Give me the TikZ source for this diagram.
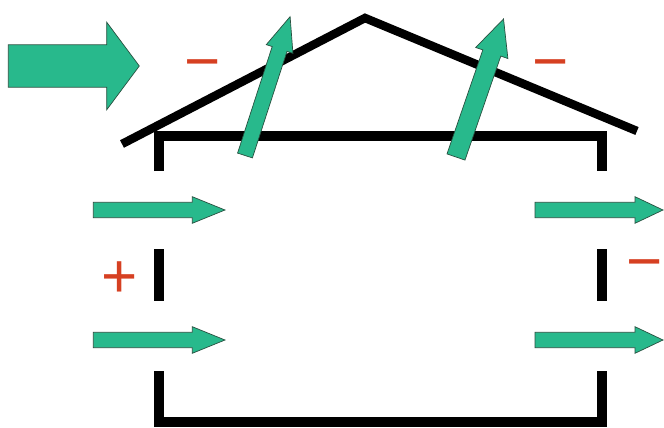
\documentclass[tikz,border=0pt]{standalone}
\usepackage{fontspec}
\setmainfont{Liberation Sans}
\definecolor{flowgreen}{RGB}{40,185,140}
\definecolor{flowedge}{RGB}{40,80,64}
\definecolor{signred}{RGB}{214,64,34}
\tikzset{
  wall/.style={line width=9.5pt, line cap=butt, line join=miter, black},
  roofline/.style={line width=8.5pt, line cap=butt, line join=miter, black},
  flowfill/.style={fill=flowgreen, draw=flowedge, line width=0.7pt, line join=miter},
  sign/.style={text=signred, inner sep=0pt, font=\fontsize{62}{62}\selectfont},
  pics/flowarrow/.style args={#1/#2/#3/#4}{code={
    \path[flowfill] (0,-#2) -- ({#1-#4},-#2) -- ({#1-#4},-#3) -- (#1,0)
      -- ({#1-#4},#3) -- ({#1-#4},#2) -- (0,#2) -- cycle;
  }},
}
\begin{document}
\begin{tikzpicture}[x=1pt,y=-1pt]
\useasboundingbox (0,0) rectangle (664,428);
% roof
\coordinate (eaveL) at (122,144);
\coordinate (apex) at (365,18);
\coordinate (eaveR) at (637,131);
\draw[roofline] (eaveL) -- (apex) -- (eaveR);
% house outline
\coordinate (tl) at (159,136);
\coordinate (tr) at (602,136);
\coordinate (bl) at (159,422);
\coordinate (br) at (602,422);
\draw[wall] (159,171) -- (tl) -- (tr) -- (602,171);
\draw[wall] (159,249) -- (159,301);
\draw[wall] (602,249) -- (602,301);
\draw[wall] (159,371) -- (bl) -- (br) -- (602,371);
% wind arrow
\pic (wind) at (8.3,66) {flowarrow={131/21.2/43.8/32.6}};
% roof outflow arrows
\pic[rotate=72] (ventL) at (245,155.5) {flowarrow={146/7.8/14/34}};
\pic[rotate=71] (ventR) at (456,157) {flowarrow={146/9.5/17/36}};
% wall flow arrows
\pic (inA) at (93.3,210) {flowarrow={131.7/7.7/13.3/32.7}};
\pic (inB) at (93.3,340) {flowarrow={131.7/7.7/13.3/32.7}};
\pic (outA) at (535,210) {flowarrow={128/7.7/13.3/28}};
\pic (outB) at (535,340) {flowarrow={128/7.7/13.3/28}};
% pressure signs
\node[sign] (mL) at (203,71) {−};
\node[sign] (mR) at (551,71) {−};
\node[sign] (pL) at (120,280) {+};
\node[sign] (mW) at (645,271) {−};
\end{tikzpicture}
\end{document}
